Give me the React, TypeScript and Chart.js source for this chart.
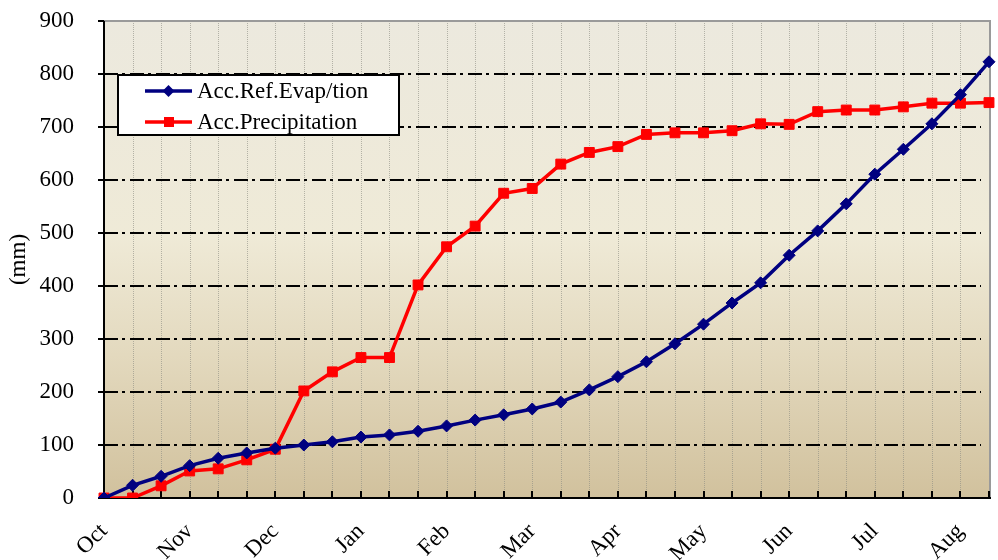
import React, { useEffect, useRef } from 'react';
import { Chart, registerables } from 'chart.js';

Chart.register(...registerables);

const monthLabels = ['Oct', 'Nov', 'Dec', 'Jan', 'Feb', 'Mar', 'Apr', 'May', 'Jun', 'Jul', 'Aug'];

const categories = [
  'Oct-1', 'Oct-2', 'Oct-3', 'Nov-1', 'Nov-2', 'Nov-3', 'Dec-1', 'Dec-2', 'Dec-3',
  'Jan-1', 'Jan-2', 'Jan-3', 'Feb-1', 'Feb-2', 'Feb-3', 'Mar-1', 'Mar-2', 'Mar-3',
  'Apr-1', 'Apr-2', 'Apr-3', 'May-1', 'May-2', 'May-3', 'Jun-1', 'Jun-2', 'Jun-3',
  'Jul-1', 'Jul-2', 'Jul-3', 'Aug-1', 'Aug-2',
];

const evapValues = [
  0, 24, 41, 61, 75, 85, 94, 100, 106, 115, 119, 126, 136, 147, 157, 168,
  181, 204, 229, 257, 291, 328, 368, 406, 458, 504, 555, 611, 658, 706, 761, 823,
];

const precipValues = [
  0, 0, 23, 51, 55, 72, 92, 202, 238, 265, 265, 402, 474, 513, 575, 584,
  630, 652, 663, 686, 689, 689, 693, 706, 705, 729, 732, 732, 738, 745, 745, 746,
];

const yTickValues = [0, 100, 200, 300, 400, 500, 600, 700, 800, 900];

const FONT = "'Liberation Serif', 'Times New Roman', serif";

const zeroPadding = (scale: any) => {
  scale.paddingTop = 0;
  scale.paddingBottom = 0;
  scale.paddingLeft = 0;
  scale.paddingRight = 0;
};

const decorPlugin = {
  id: 'decor',
  beforeDatasetsDraw(chart: any) {
    const { ctx, chartArea: a, scales } = chart;
    const xs = scales.x;
    const ys = scales.y;
    ctx.save();
    const g = ctx.createLinearGradient(0, a.top, 0, a.bottom);
    g.addColorStop(0, '#ECE9DE');
    g.addColorStop(0.45, '#EFEAD7');
    g.addColorStop(0.7, '#E3D9BE');
    g.addColorStop(1, '#D1C19D');
    ctx.fillStyle = g;
    ctx.fillRect(a.left, a.top, a.right - a.left, a.bottom - a.top);

    ctx.strokeStyle = 'rgba(140,140,130,0.6)';
    ctx.lineWidth = 1;
    ctx.setLineDash([1, 1]);
    for (let i = 1; i < categories.length - 1; i++) {
      const px = Math.round(xs.getPixelForValue(i)) + 0.5;
      ctx.beginPath();
      ctx.moveTo(px, a.top);
      ctx.lineTo(px, a.bottom);
      ctx.stroke();
    }

    ctx.strokeStyle = '#000';
    ctx.lineWidth = 2;
    ctx.setLineDash([14, 4, 3, 5]);
    for (const v of yTickValues) {
      if (v === 0 || v === 900) continue;
      const py = Math.round(ys.getPixelForValue(v));
      ctx.beginPath();
      ctx.moveTo(a.left, py);
      ctx.lineTo(a.right - 8, py);
      ctx.stroke();
    }
    ctx.setLineDash([]);

    ctx.strokeStyle = '#9A9A9A';
    ctx.lineWidth = 2;
    ctx.beginPath();
    ctx.moveTo(a.left, a.top);
    ctx.lineTo(a.right + 1, a.top);
    ctx.lineTo(a.right + 1, a.bottom);
    ctx.stroke();

    ctx.strokeStyle = '#000';
    ctx.lineWidth = 2;
    ctx.beginPath();
    ctx.moveTo(a.left, a.top);
    ctx.lineTo(a.left, a.bottom);
    ctx.lineTo(a.right + 2, a.bottom);
    ctx.stroke();

    for (const v of yTickValues) {
      const py = Math.round(ys.getPixelForValue(v));
      ctx.beginPath();
      ctx.moveTo(a.left - 6, py);
      ctx.lineTo(a.left, py);
      ctx.stroke();
    }
    for (let i = 1; i < categories.length; i++) {
      const px = Math.round(xs.getPixelForValue(i));
      ctx.beginPath();
      ctx.moveTo(px, a.bottom);
      ctx.lineTo(px, a.bottom - 7);
      ctx.stroke();
    }
    ctx.restore();
  },
  afterDraw(chart: any) {
    const { ctx } = chart;
    const x0 = 118;
    const y0 = 75;
    const w = 281;
    const h = 60;
    ctx.save();
    ctx.fillStyle = '#fff';
    ctx.fillRect(x0, y0, w, h);
    ctx.strokeStyle = '#000';
    ctx.lineWidth = 2;
    ctx.strokeRect(x0, y0, w, h);
    const rows = [91, 122];
    chart.data.datasets.forEach((ds: any, i: number) => {
      const y = rows[i];
      ctx.strokeStyle = ds.borderColor;
      ctx.lineWidth = 3.5;
      ctx.beginPath();
      ctx.moveTo(145, y);
      ctx.lineTo(192, y);
      ctx.stroke();
      ctx.fillStyle = ds.pointBackgroundColor;
      ctx.beginPath();
      if (ds.pointStyle === 'rectRot') {
        const r = 6;
        ctx.moveTo(168.5, y - r);
        ctx.lineTo(168.5 + r, y);
        ctx.lineTo(168.5, y + r);
        ctx.lineTo(168.5 - r, y);
        ctx.closePath();
      } else {
        ctx.rect(164, y - 5, 10, 10);
      }
      ctx.fill();
      ctx.fillStyle = '#000';
      ctx.font = `23px ${FONT}`;
      ctx.textBaseline = 'middle';
      ctx.textAlign = 'left';
      ctx.fillText(ds.label, 197, y + 1);
    });
    ctx.restore();
  },
};

export default function App() {
  const canvasRef = useRef<HTMLCanvasElement | null>(null);

  useEffect(() => {
    const canvas = canvasRef.current;
    if (!canvas) return;
    const chart = new Chart(canvas, {
      type: 'line',
      data: {
        labels: categories,
        datasets: [
          {
            label: 'Acc.Ref.Evap/tion',
            data: evapValues,
            borderColor: '#000080',
            backgroundColor: '#000080',
            pointBackgroundColor: '#000080',
            pointBorderColor: '#000080',
            pointStyle: 'rectRot',
            pointRadius: 6,
            pointBorderWidth: 1,
            borderWidth: 3.5,
            tension: 0,
            fill: false,
          },
          {
            label: 'Acc.Precipitation',
            data: precipValues,
            borderColor: '#FF0000',
            backgroundColor: '#FF0000',
            pointBackgroundColor: '#FF0000',
            pointBorderColor: '#FF0000',
            pointStyle: 'rect',
            pointRadius: 7,
            pointBorderWidth: 1,
            borderWidth: 3.5,
            tension: 0,
            fill: false,
          },
        ],
      },
      options: {
        responsive: false,
        animation: false,
        devicePixelRatio: 1,
        layout: { padding: { top: 21, right: 9, left: 0, bottom: 0 } },
        plugins: {
          legend: { display: false },
          tooltip: { enabled: false },
        },
        scales: {
          x: {
            type: 'category',
            offset: false,
            grid: { display: false },
            border: { display: false },
            ticks: {
              autoSkip: false,
              maxRotation: 45,
              minRotation: 45,
              padding: 12,
              color: '#000',
              font: { family: FONT, size: 23 },
              callback: (_v: any, index: number) =>
                index % 3 === 0 ? monthLabels[index / 3] : '',
            },
            afterFit: (scale: any) => {
              scale.height = 62;
              zeroPadding(scale);
            },
          },
          y: {
            min: 0,
            max: 900,
            grid: { display: false },
            border: { display: false },
            ticks: {
              stepSize: 100,
              padding: 22,
              color: '#000',
              font: { family: FONT, size: 23 },
            },
            title: {
              display: true,
              text: '(mm)',
              color: '#000',
              font: { family: FONT, size: 23 },
              padding: { top: 5, bottom: 0 },
            },
            afterFit: (scale: any) => {
              scale.width = 104;
              zeroPadding(scale);
            },
          },
        },
      },
      plugins: [decorPlugin],
    });
    return () => chart.destroy();
  }, []);

  return (
    <div style={{ position: 'fixed', left: 0, top: 0, width: 998, height: 560, background: '#fff' }}>
      <canvas ref={canvasRef} width={998} height={560} style={{ display: 'block' }} />
    </div>
  );
}
